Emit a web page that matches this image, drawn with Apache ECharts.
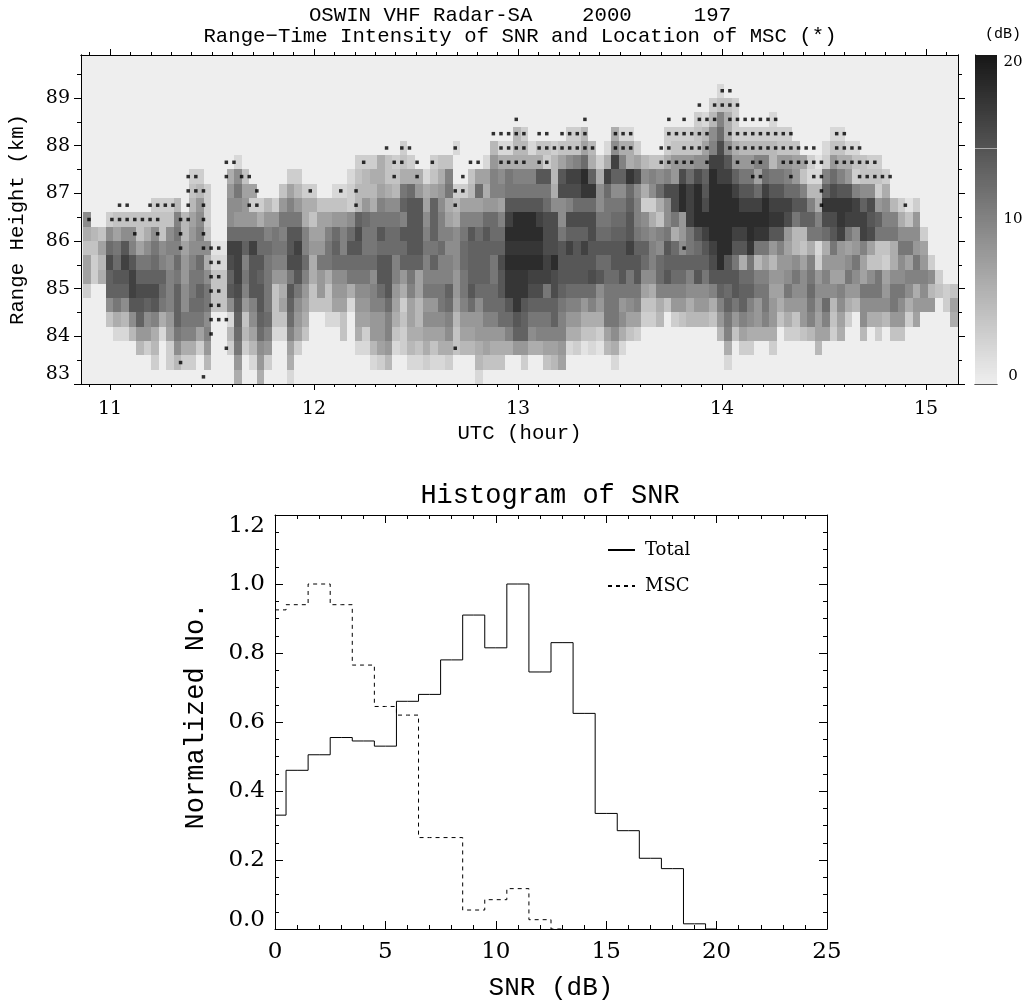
<!DOCTYPE html>
<html><head><meta charset="utf-8">
<style>html,body{margin:0;padding:0;background:#fff}#c{width:1027px;height:1008px}</style>
<script src="https://cdn.jsdelivr.net/npm/echarts@6/dist/echarts.min.js"></script>
</head><body><div id="c"></div>
<script>
// SNR cells per range row (bottom row first), "column:dB" or "from-to:dB"
const snrRow00 = "20:6 23:6 27:2 52:2";
const snrRow01 = "9:3 11:3 12:5 13-14:3 16:5 20:8 22:2 23:8 24:3 27:6 38:2 39:3 40:5 43:2 44:2 45:3 46:2 47:2 48:3 52:5 53-55:4 58:3 61:4 62:5 63:7 70:2 85:2";
const snrRow02 = "7:5 8:3 9:5 11:3 12:9 13-14:6 15:3 16:8 19:3 20:11 21:3 22:5 23:9 24:8 27:7 28:3 36:2 37:2 38:5 39:7 40:8 41:2 42:3 43:5 44:4 45:6 46:4 47:6 48:6 49:4 50-51:5 52:6 53:7 54-56:6 57-58:8 59-60:6 61-62:7 63:8 64:2 65:3 66:1 67:2 68:1 69:5 70:6 71:2 85:6 87-88:3 91:3 97:5";
const snrRow03 = "4-5:2 6:5 7:8 8:8 9:6 10:2 11:7 12:11 13-14:10 15:7 16:10 19:5 20:12 21:5 22:7 23:12 24:10 25-26:2 27:10 28:7 29:4 34:4 36:6 37:3 38-39:8 40:10 41:4 42:3 43-44:6 45-47:7 48:9 49:4 50-51:7 52-55:8 56:10 57-58:13 59:9 60-63:10 64-65:6 66-67:4 68:3 69:7 70:9 71:6 72:4 73:3 84:5 85:10 86:4 87:7 88-91:6 93-94:3 95:4 96:5 97-98:7 99:3 100:6 103:5 105:3 107-108:4";
const snrRow04 = "3:4 4:6 5:5 6:9 7:13 8:9 9:10 10:6 11:8 12:13 13-15:11 16:9 19:2 20:13 21:4 22:9 23:13 24:12 25-26:4 27:12 28:8 29:6 32-33:2 34:4 36:7 37:7 38-39:8 40:10 41:6 42:4 43:7 44:5 45-47:9 48:10 49:5 50-52:8 53-54:10 55-56:12 57:14 58:13 59-61:11 62:13 63:10 64-65:8 66-68:6 69-70:11 71:9 72-73:7 74-75:3 76:5 78:3 79:4 80-82:5 83:4 84:8 85:11 86:8 87:10 88:9 89:8 90:10 91:8 92:4 93:6 94:4 95:8 96:10 97:7 98:10 99:4 100:7 101:3 103:9 104-105:6 106:5 107-108:8 109:3 110:7 115:6";
const snrRow05 = "3:9 4:11 5:9 6-7:14 8:13 9:14 10:11 11:10 12:13 13:9 14-15:12 16:11 17-18:4 19:9 20:14 21:8 22:10 23:14 24:11 25:4 26:7 27:13 28:9 29:7 30-32:4 33-34:7 35:2 36:8 37:8 38-39:10 40:12 41:7 42:3 43:7 44:5 45-46:8 47:11 48:12 49:7 50:10 51:12 52:9 53-55:12 56:14 57:17 58:14 59-62:13 63:11 64-65:10 66:8 67:10 68:8 69-70:11 71:8 72:9 73:10 74-75:4 76:6 77:4 78-79:8 80:6 81-82:8 83:6 84:10 85:13 86:11 87:13 88:10 89:8 90:11 91:8 92:6 93-95:8 96:11 97:8 98:12 99:5 100:9 101:6 102:5 103-106:9 107:11 108:9 109:6 110-112:8 114:3 115:7";
const snrRow06 = "0:3 3-5:13 6:16 7-9:15 10:12 11:10 12:13 13:9 14:11 15:13 16:11 17-18:4 19:14 20:15 21:10 22-23:14 24:11 25:4 26:6 27:14 28:11 29:8 30:4 31:8 32:4 33-34:8 35:6 36:9 37:9 38:10 39:12 40:14 41:8 42:6 43:10 44:7 45-47:11 48:13 49:8 50:11 51:14 52-54:12 55:14 56-58:17 59-60:15 61:11 62:15 63:13 64-67:12 68:9 69-73:11 74:7 75:6 76-79:10 80-82:9 83:10 84:13 85:12 86:14 87-88:13 89-90:11 91-92:7 93:11 94-95:9 96:12 97-99:9 100:10 101-102:8 103-105:11 106:8 107-108:11 109:9 110:6 111:9 112:5 113:4 114:3 115:4";
const snrRow07 = "0:7 1:3 2:6 3:13 4-5:14 6:16 7-10:13 11:10 12:11 13:8 14-15:11 16:9 17-18:4 19:13 20:16 21:11 22:14 23:13 24:11 25-26:8 27:11 28:14 29:10 30:6 31:8 32:6 33-34:9 35:11 36:11 37:11 38:9 39-40:14 41:10 42:8 43:11 44:7 45-48:10 49:8 50:11 51-53:13 54:11 55:14 56-58:17 59-61:16 62:15 63-66:14 67:15 68:14 69-70:12 71:14 72:11 73:14 74:9 75:9 76:12 77:14 78-79:12 80:10 81:14 82:11 83-86:14 87-88:12 89-90:10 91-92:8 93:9 94:11 95:9 96:11 97:8 98:10 99-100:7 101:11 102:9 103:7 104:9 105:11 106:7 107-108:9 109-111:10 112:9 113:3";
const snrRow08 = "0:7 1:3 2:5 3:15 4:12 5:16 6:14 7-8:11 9:12 10:10 11:9 12:12 13:8 14:10 15:12 16:6 17-18:2 19:15 20:16 21:10 22-23:14 24:11 25-26:10 27-28:15 29:12 30:6 31-32:11 33-36:12 37-38:12 39-40:14 41:10 42-44:13 45:10 46:13 47-48:10 49:9 50:12 51-53:13 54:11 55:15 56-60:18 61:16 62:18 63-67:14 68-69:12 70-73:14 74:12 75:10 76:12 77-82:13 83:15 84:18 85:14 86:11 87:6 88:11 89:5 90:7 91:5 92:8 93:8 94:9 95:7 96:10 97:3 98-100:8 101:9 102:11 103:7 104-105:4 106:3 107:6 108:9 109:7 110:11 111:8 112:3";
const snrRow09 = "0-1:4 2:7 3:12 4:11 5:14 6:10 7:7 8:9 9:11 10:9 11-12:10 13:7 14-16:9 17-18:1 19-20:16 21:13 22:16 23-24:12 25-26:11 27:14 28:16 29:10 30:8 31:8 32:11 33:13 34:10 35-36:14 37-38:11 39-42:12 43-44:14 45-46:11 47:12 48-49:9 50:12 51-55:13 56-60:17 61-62:15 63:14 64:16 65:14 66:16 67-71:14 72:16 73-74:13 75:10 76:9 77:14 78:12 79:9 80:11 81:12 82:14 83:16 84-85:18 86-87:14 88:17 89-90:11 91:8 92:10 93:7 94:5 95:4 96:6 97:2 98:6 99:11 100:8 101:7 102:8 103:10 104:7 105-106:4 107:6 108-109:11 110:8 111:7";
const snrRow10 = "0:6 1:5 2:4 3:9 4:7 5:9 6:9 7:4 8:6 9:9 10:4 11:9 12:11 13:5 14:8 15:10 16:4 19-23:12 24:10 25:11 26:10 27-28:14 29:10 30-31:7 32:10 33:12 34:10 35:12 36:15 37-38:11 39:14 40-41:12 42-44:14 45:10 46:13 47-48:10 49:9 50:11 51:14 52:12 53:14 54-55:12 56-60:18 61-62:15 63:11 64-66:13 67:15 68-69:12 70-71:13 72:14 73:11 74:10 75:9 76:10 77:11 78:6 79:8 80:11 81:14 82:16 83-85:18 86-87:16 88:18 89-90:17 91-92:14 93:8 94-95:5 96-97:11 98:12 99:14 100:16 101:11 102:9 103:16 104:15 105-107:11 108-110:9 111:3";
const snrRow11 = "0:9 3:3 4-11:4 12:10 13:5 14:7 15:9 16:3 19:9 20-22:8 23:6 24-25:8 26-28:11 29:6 30:4 31-32:7 33-34:8 35:9 36:13 37:12 38-41:11 42:10 43-44:14 45:9 46:13 47:10 48:7 49:6 50-52:10 53-54:12 55:10 56:16 57-59:18 60:16 61-62:15 63:9 64-67:15 68-69:11 70-71:12 72:14 73:10 74:9 75:6 76:4 77:9 78:11 79:8 80:16 81-90:18 91-92:17 93:15 94:11 95-96:13 97:10 98-99:15 100:17 101-103:16 104:14 105:13 106-107:10 108:6 109:4 110:8";
const snrRow12 = "9-11:3 12:5 14:5 15:8 16:3 19-20:9 21:8 22-23:3 24:5 25:3 26:8 27:10 28:8 29-30:6 31-34:4 35:3 36:5 37:8 38:6 39:10 40-41:9 42:13 43-44:14 45:7 46:13 47:9 48:6 49:5 50-52:7 53-54:8 55:7 56-60:14 61:12 62-63:9 64:10 65-67:12 68:9 69-71:11 72:13 73:10 74:3 75:3 76:6 77:9 78:15 79:18 80:16 81:18 82:15 83-86:18 87-89:16 90:18 91-93:16 94-95:14 96:10 97:6 98-101:17 102:16 103:13 104:15 105:8 106:9 107:5 108:3 109:1 110:3";
const snrRow13 = "14:4 15:5 16:3 19:8 20:11 21-22:7 26:4 27:7 28:5 29-30:3 33-34:2 35:3 36:5 37:5 38:5 39:7 40:6 41:5 42:11 43:12 44:8 45:6 46:7 47:8 48:11 49-50:3 51:5 52:12 53:6 54-55:10 56-61:11 62:6 63-65:15 66-67:17 68:9 69:12 70-71:9 72:12 73:9 74:6 75:9 76:12 77-78:15 79:18 80:16 81:18 82:14 83-85:18 86:16 87-88:14 89:12 90:16 91-92:14 93-94:12 95:10 96-97:5 98:13 99:15 100-101:14 102:10 103-104:9 105:3 106:6";
const snrRow14 = "14-15:3 19:6 20:9 21:4 27-28:3 35:2 36:4 37:5 38-39:6 40-41:4 42-44:6 45:2 46:4 47:6 48:10 51:4 52-53:7 54:10 55:9 56:11 57-59:10 60-61:14 62:5 63:14 64-65:16 66:18 67:13 68:6 69:16 70-71:13 72:17 73:15 74:9 75:10 76:9 77:10 78:8 79:15 80:12 81:15 82:13 83:18 84-85:16 86:13 87-88:11 89:7 90:12 91-92:11 93:10 94:8 95:4 96-97:2 98:10 99:12 100:10 101:8 102:3 103-105:4 106:3";
const snrRow15 = "20:2 36:3 37:3 38:3 39:6 40:4 41:3 42:4 43:3 46:3 47-48:4 53:2 54:8 55-60:6 61:3 62:5 63:7 64:9 65:10 66:12 67:6 68:3 69:6 70:16 71:10 72:6 73:7 74:5 75-76:4 77:6 78-80:8 81-82:9 83-84:16 85:14 86:8 87-88:8 89-90:10 91:5 92-93:8 94-95:7 96:3 97:1 98:3 99:8 100-101:6 102-103:4 104-105:3";
const snrRow16 = "42:3 49:2 54:5 55-56:2 57-58:5 59:2 60-61:4 62:3 63-65:4 66:7 67:5 69:2 70:9 71-72:6 73:3 77:3 78-81:4 82:7 83:10 84:15 85:9 86:6 87-91:5 92-94:4 98:2 99-100:4 101-102:2";
const snrRow17 = "57:5 58:3 64-65:3 66:5 70:6 71-72:2 77-80:3 81:4 82:5 83:9 84:12 85:6 86-93:3 99-100:2";
const snrRow18 = "81:3 82:2 83:5 84:10 85:6 86:3 91:2";
const snrRow19 = "83:3 84:4 85:4 86:3";
const snrRow20 = "84:2";
const snrRows = [snrRow00,snrRow01,snrRow02,snrRow03,snrRow04,snrRow05,snrRow06,snrRow07,snrRow08,snrRow09,snrRow10,snrRow11,snrRow12,snrRow13,snrRow14,snrRow15,snrRow16,snrRow17,snrRow18,snrRow19,snrRow20];

// MSC dots per range row: sample number of the dot
const mscRow00 = [15];
const mscRow01 = [12];
const mscRow02 = [18,48];
const mscRow03 = [16];
const mscRow04 = [16,17,18];
const mscRow05 = [16,17];
const mscRow06 = [16,17];
const mscRow07 = [16,17];
const mscRow08 = [16,17];
const mscRow09 = [12,15,16,17,78];
const mscRow10 = [6,9,12,15];
const mscRow11 = [0,3,4,5,6,7,8,9,12,13,15];
const mscRow12 = [4,5,8,9,10,11,13,15,21,22,35,48,96,107];
const mscRow13 = [13,14,15,22,29,33,35,48,49,96];
const mscRow14 = [13,14,18,20,21,40,43,49,87,88,92,95,96,101,102,103,104,105];
const mscRow15 = [18,19,36,40,41,43,45,50,51,54,55,56,57,59,60,75,76,77,78,79,81,85,87,88,91,92,93,94,95,96,98,99,100,101,102,103];
const mscRow16 = [39,41,42,48,54,55,56,57,59,60,61,62,63,64,65,66,69,70,71,75,76,78,79,80,81,84,85,86,87,88,89,90,91,92,93,94,95,98,99,100,101];
const mscRow17 = [53,54,55,56,57,59,60,62,63,64,65,69,70,71,76,77,78,79,80,81,84,85,86,87,88,89,90,91,92,98,99];
const mscRow18 = [56,65,76,78,80,81,82,84,85,86,87,88,89,90];
const mscRow19 = [80,82,83,84,85];
const mscRow20 = [83,84];
const mscRows = [mscRow00,mscRow01,mscRow02,mscRow03,mscRow04,mscRow05,mscRow06,mscRow07,mscRow08,mscRow09,mscRow10,mscRow11,mscRow12,mscRow13,mscRow14,mscRow15,mscRow16,mscRow17,mscRow18,mscRow19,mscRow20];

// Histogram
const totalBins = [0,1,2,3,4,5,6,7,8,9,10,11,12,13,14,15,16,17,18,19,20];
const totalNo = [0.33,0.46,0.505,0.555,0.545,0.53,0.66,0.68,0.78,0.91,0.815,1.0,0.745,0.83,0.625,0.335,0.285,0.205,0.175,0.015,0];
const mscBins = [0,1,2,3,4,5,6,7,8,9,10,11,12,13];
const mscNo   = [0.925,0.94,1.0,0.94,0.765,0.645,0.62,0.265,0.265,0.055,0.085,0.117,0.027,0];

// Axis ticks
const hourTicks = [11,12,13,14,15];
const hourMinor = [];
for (let i=109;i<=151;i++) if (i%10) hourMinor.push(i/10);
const heightTicks = [83,84,85,86,87,88,89];
const heightMinor = [83.5,84.5,85.5,86.5,87.5,88.5,89.5];
const colorTicks = [0,10,20];

const cellStart = 10.869, cellStep = 0.03696, rowBase = 83.0, rowStep = 0.3;
const dotStart = 10.8971, dotStep = 0.0374;
const hMin = 10.8578, hMax = 15.157, kmMax = 89.9;

const gray = v => { const g = Math.round(238 - v*10.8); return `rgb(${g},${g},${g})`; };
const cells = [];
snrRows.forEach((row,k)=>row.split(' ').forEach(tok=>{
  const [c,v] = tok.split(':'); const [a,b] = c.split('-').map(Number);
  for (let i=a;i<=(b===undefined?a:b);i++) cells.push([cellStart+i*cellStep, rowBase+k*rowStep, +v]);
}));
const dots = [];
mscRows.forEach((row,k)=>row.forEach(j=>dots.push([dotStart+j*dotStep, rowBase+(k+0.5)*rowStep])));
const ramp = []; for (let v=0;v<20;v+=0.125) ramp.push([v]);

const F = 'DejaVu Serif', M = 'Liberation Mono';
const line = {show:true,onZero:false,lineStyle:{color:'#000',width:1}};
const tick = (len,vals)=>({show:true,length:len,customValues:vals,lineStyle:{color:'#000',width:1}});
const fx = (i,pos,vals,len,extra)=>Object.assign({type:'value',gridIndex:i,position:pos,min:hMin,max:hMax,axisLine:line,axisTick:tick(len,vals),axisLabel:{show:false},splitLine:{show:false}},extra||{});
const fy = (i,pos,vals,len,extra)=>Object.assign({type:'value',gridIndex:i,position:pos,min:83,max:kmMax,axisLine:line,axisTick:tick(len,vals),axisLabel:{show:false},splitLine:{show:false}},extra||{});
const lab = {show:true,color:'#000',fontFamily:F,fontSize:19};
const rectCells = (x0,y0,x1,y1)=>{ const x=Math.round(x0),y=Math.round(y0); return {x,y,width:Math.round(x1)-x,height:Math.round(y1)-y}; };
const rawGrid = {outerBoundsMode:'none',containLabel:false};

const option = {
  animation:false, backgroundColor:'#fff',
  title:[
    {text:'OSWIN VHF Radar-SA    2000     197',left:515,top:0,textAlign:'center',textStyle:{fontFamily:M,fontWeight:'normal',fontSize:20.7,color:'#000'}},
    {text:'Range\u2212Time Intensity of SNR and Location of MSC (*)',left:515,top:21,textAlign:'center',textStyle:{fontFamily:M,fontWeight:'normal',fontSize:20.7,color:'#000'}},
    {text:'(dB)',left:980,top:22,textStyle:{fontFamily:M,fontWeight:'normal',fontSize:15,color:'#000'}},
    {text:'Histogram of SNR',left:545,top:477,textAlign:'center',textStyle:{fontFamily:M,fontWeight:'normal',fontSize:27,color:'#000'}}
  ],
  grid:[
    Object.assign({left:81,top:55,width:877,height:329,show:true,backgroundColor:'#eeeeee',borderWidth:0},rawGrid),
    Object.assign({left:81,top:55,width:877,height:329,show:false},rawGrid),
    Object.assign({left:975,top:55,width:22,height:329,show:false},rawGrid),
    Object.assign({left:275,top:515,width:552,height:414,show:false},rawGrid)
  ],
  xAxis:[
    fx(0,'bottom',hourTicks,6,{name:'UTC (hour)',nameLocation:'middle',nameGap:39,nameTextStyle:{fontFamily:M,fontSize:20.7,color:'#000'},
      axisLabel:Object.assign({},lab,{customValues:hourTicks,margin:16,formatter:v=>String(v)})}),
    fx(0,'top',hourTicks,6),
    fx(1,'bottom',hourMinor,3),
    fx(1,'top',hourMinor,3),
    {type:'value',gridIndex:2,min:0,max:1,position:'bottom',axisLine:{show:true,lineStyle:{color:'#555',width:1}},axisTick:{show:false},axisLabel:{show:false},splitLine:{show:false}},
    {type:'value',gridIndex:2,min:0,max:1,position:'top',axisLine:{show:true,lineStyle:{color:'#555',width:1}},axisTick:{show:false},axisLabel:{show:false},splitLine:{show:false}},
    {type:'value',gridIndex:3,min:0,max:25,interval:5,position:'bottom',name:'SNR (dB)',nameLocation:'middle',nameGap:46,nameTextStyle:{fontFamily:M,fontSize:26,color:'#000'},
      axisLine:line,axisTick:{show:true,inside:true,length:8,lineStyle:{color:'#000'}},minorTick:{show:true,splitNumber:5,length:4,lineStyle:{color:'#000'}},
      axisLabel:{color:'#000',fontFamily:F,fontSize:23,margin:12},splitLine:{show:false},minorSplitLine:{show:false}},
    {type:'value',gridIndex:3,min:0,max:25,interval:5,position:'top',axisLine:line,axisTick:{show:true,inside:true,length:8,lineStyle:{color:'#000'}},minorTick:{show:true,splitNumber:5,length:4,lineStyle:{color:'#000'}},axisLabel:{show:false},splitLine:{show:false}}
  ],
  yAxis:[
    fy(0,'left',heightTicks,7,{name:'Range Height (km)',nameLocation:'middle',nameGap:53,nameTextStyle:{fontFamily:M,fontSize:20.7,color:'#000'},
      axisLabel:Object.assign({},lab,{customValues:heightTicks,margin:11,padding:[5,0,0,0],verticalAlignMinLabel:'bottom',formatter:v=>String(v)})}),
    fy(0,'right',heightTicks,7),
    fy(1,'left',heightMinor,4),
    fy(1,'right',heightMinor,4),
    {type:'value',gridIndex:2,min:0,max:20,position:'right',axisLine:{show:true,lineStyle:{color:'#555',width:1}},axisTick:{show:false},
      axisLabel:{color:'#000',fontFamily:F,fontSize:15,margin:16,align:'center',customValues:colorTicks,verticalAlignMinLabel:'bottom',verticalAlignMaxLabel:'top'},splitLine:{show:false}},
    {type:'value',gridIndex:2,min:0,max:20,position:'left',axisLine:{show:true,lineStyle:{color:'#555',width:1}},axisTick:{show:false},axisLabel:{show:false},splitLine:{show:false}},
    {type:'value',gridIndex:3,min:0,max:1.2,interval:0.2,position:'left',name:'Normalized No.',nameLocation:'middle',nameGap:66,nameTextStyle:{fontFamily:M,fontSize:27,color:'#000',padding:[0,0,0,12]},
      axisLine:line,axisTick:{show:true,inside:true,length:8,lineStyle:{color:'#000'}},minorTick:{show:true,splitNumber:4,length:4,lineStyle:{color:'#000'}},
      axisLabel:{color:'#000',fontFamily:F,fontSize:23,margin:10,formatter:v=>v===0?'{z|0.0}':v.toFixed(1),rich:{z:{lineHeight:18,fontFamily:F,fontSize:23,color:'#000'}},verticalAlignMinLabel:'bottom',verticalAlignMaxLabel:'top'},splitLine:{show:false}},
    {type:'value',gridIndex:3,min:0,max:1.2,interval:0.2,position:'right',axisLine:line,axisTick:{show:true,inside:true,length:8,lineStyle:{color:'#000'}},minorTick:{show:true,splitNumber:4,length:4,lineStyle:{color:'#000'}},axisLabel:{show:false},splitLine:{show:false}}
  ],
  legend:{left:607,top:541,padding:0,orient:'vertical',itemWidth:27,itemHeight:14,itemGap:18,data:['Total','MSC'],textStyle:{fontFamily:F,fontSize:18,color:'#000',padding:[0,0,0,5]},selectedMode:false,
    itemStyle:{color:'transparent',borderColor:'transparent',borderWidth:0}},
  series:[
    {type:'custom',xAxisIndex:0,yAxisIndex:0,data:cells,silent:true,clip:true,
      renderItem:(p,api)=>{
        const t=api.value(0),h=api.value(1),a=api.coord([t,h+rowStep]),b=api.coord([t+cellStep,h]);
        return {type:'rect',shape:rectCells(a[0],a[1],b[0],b[1]),style:{fill:gray(api.value(2))}};
      }},
    {type:'scatter',xAxisIndex:0,yAxisIndex:0,data:dots,symbol:'rect',symbolSize:3.5,itemStyle:{color:'#000'},silent:true,z:5},
    {type:'custom',xAxisIndex:4,yAxisIndex:4,data:ramp,silent:true,
      renderItem:(p,api)=>{
        const v=api.value(0),a=api.coord([0,v+0.125]),b=api.coord([1,v]);
        return {type:'rect',shape:rectCells(a[0],a[1],b[0],b[1]),style:{fill:gray(v)}};
      },
      markLine:{silent:true,symbol:'none',label:{show:false},lineStyle:{color:'#aaa',width:1,type:'solid'},data:[{yAxis:14.35}]}},
    {name:'Total',type:'line',xAxisIndex:6,yAxisIndex:6,step:'middle',symbol:'none',data:totalBins.map((b,i)=>[b,totalNo[i]]),lineStyle:{color:'#000',width:1},itemStyle:{color:'#000'},silent:true},
    {name:'MSC',type:'line',xAxisIndex:6,yAxisIndex:6,step:'middle',symbol:'none',data:mscBins.map((b,i)=>[b,mscNo[i]]),lineStyle:{color:'#000',width:1,type:[4,4]},itemStyle:{color:'#000'},silent:true}
  ]
};
echarts.init(document.getElementById('c'),null,{renderer:'canvas'}).setOption(option);
</script></body></html>
